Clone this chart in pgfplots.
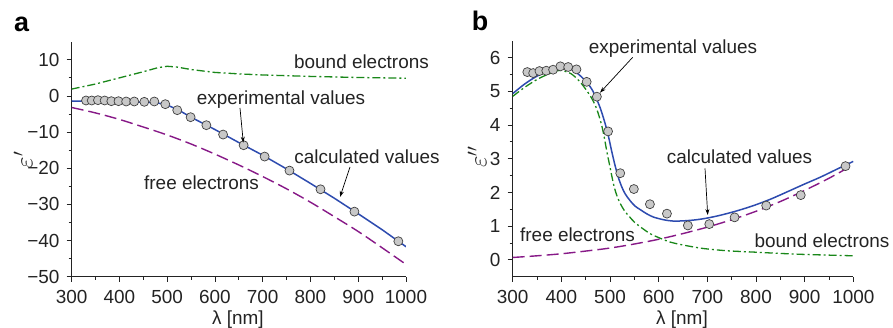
\documentclass[border=0pt]{standalone}
\usepackage{pgfplots}
\pgfplotsset{compat=1.18}
\usepackage{fontspec}
\setmainfont{Liberation Sans}
\usetikzlibrary{arrows.meta}
\definecolor{cblue}{RGB}{45,75,175}
\definecolor{cgreen}{RGB}{25,135,25}
\definecolor{cpurple}{RGB}{135,25,135}
\definecolor{ctext}{RGB}{35,35,35}
\definecolor{cmark}{RGB}{200,200,200}
\newcommand\fs{\fontsize{19}{22}\selectfont}
\pgfplotsset{
  common/.style={
    scale only axis,
    axis lines=left,
    axis line style={-, line width=0.9bp, color=ctext},
    tick align=outside,
    major tick length=5bp,
    minor tick length=3bp,
    every tick/.style={line width=0.8bp, color=ctext},
    xmin=300, xmax=1000,
    xtick={300,400,...,1000},
    xticklabels={300,400,500,600,700,800,900,1000},
    minor x tick num=1,
    minor y tick num=1,
    tick label style={font=\fs, text=ctext},
    yticklabel style={anchor=east, inner sep=0pt, xshift=-7bp},
    xticklabel style={anchor=north, inner sep=0pt, yshift=-8bp},
  },
  expmark/.style={only marks, mark=*, mark size=4.5bp, mark options={fill=cmark, draw=black!75, line width=0.7bp}},
  calc/.style={cblue, line width=1.5bp, no marks},
  free/.style={cpurple, line width=1.4bp, no marks, dash pattern=on 12bp off 5bp},
  bound/.style={cgreen, line width=1.3bp, no marks, dash pattern=on 8bp off 3bp on 2bp off 3bp},
}
\begin{document}
\begin{tikzpicture}[x=1bp,y=1bp]
\path[use as bounding box] (0bp,0bp) rectangle (893bp,328bp);
% ---------------- panel a ----------------
\begin{axis}[common,
  at={(71.7bp,51.3bp)}, anchor=south west,
  width=334.3bp, height=235bp,
  ymin=-50, ymax=15,
  ytick={-50,-40,...,10},
  yticklabels={−50,−40,−30,−20,−10,0,10},
]
\addplot[bound] coordinates {
(300,1.9)(350,3.3)(400,5.0)(450,6.7)(480,7.8)(500,8.2)(520,8.0)(550,7.3)(600,6.5)(650,6.1)(700,5.8)(800,5.4)(900,5.1)(1000,4.9)};
\addplot[free, smooth] coordinates {
(300,-3.2)(350,-4.7)(400,-6.5)(450,-8.6)(500,-10.8)(550,-13.3)(600,-16.1)(650,-19.1)(700,-22.3)(750,-25.7)(800,-29.4)(850,-33.4)(900,-37.5)(950,-42.0)(1000,-46.6)};
\addplot[calc] coordinates {
(300,-1.4)(350,-1.5)(400,-1.6)(450,-1.75)(470,-1.85)(485,-2.05)(500,-2.5)(525,-4.0)(550,-5.9)(600,-9.3)(650,-12.9)(700,-16.4)(750,-20.2)(800,-24.2)(850,-28.3)(900,-32.6)(950,-37.0)(1000,-41.7)};
\addplot[expmark] coordinates {
(330,-1.26)(342,-1.26)(355,-1.17)(369,-1.26)(383,-1.45)(398,-1.45)(414,-1.54)(431,-1.54)(452,-1.63)(473,-1.54)(496,-2.28)(521,-3.94)(549,-5.88)(582,-8.09)(617,-10.68)(660,-13.63)(704,-16.77)(756,-20.65)(821,-25.82)(892,-32.0)(984,-40.2)};
\end{axis}
% ---------------- panel b ----------------
\begin{axis}[common,
  at={(512.7bp,51.3bp)}, anchor=south west,
  width=340.6bp, height=236bp,
  ymin=-0.5, ymax=6.5,
  ytick={0,1,...,6},
  yticklabels={0,1,2,3,4,5,6},
]
\addplot[free, smooth] coordinates {
(300,0.07)(350,0.12)(400,0.18)(450,0.26)(500,0.35)(550,0.47)(600,0.61)(650,0.78)(700,0.97)(750,1.19)(800,1.44)(850,1.73)(900,2.06)(950,2.42)(1000,2.82)};
\addplot[bound, smooth] coordinates {
(300,4.85)(325,5.12)(350,5.35)(375,5.52)(397,5.62)(420,5.52)(440,5.25)(460,4.85)(472,4.50)(482,4.04)(488,3.65)(493,3.25)(500,2.75)(507,2.26)(513,1.95)(520,1.70)(530,1.45)(540,1.28)(550,1.12)(565,0.95)(582,0.78)(600,0.66)(623,0.53)(650,0.44)(690,0.34)(740,0.27)(795,0.23)(850,0.19)(900,0.16)(950,0.14)(1000,0.12)};
\addplot[calc, smooth] coordinates {
(300,4.93)(325,5.22)(350,5.45)(375,5.62)(397,5.74)(420,5.66)(442,5.42)(460,5.12)(469,4.88)(480,4.50)(490,4.04)(497,3.65)(503,3.25)(510,2.82)(517,2.45)(524,2.17)(531,1.96)(541,1.76)(551,1.60)(562,1.49)(575,1.37)(589,1.27)(610,1.19)(630,1.15)(655,1.16)(678,1.19)(700,1.24)(726,1.32)(760,1.45)(795,1.61)(830,1.80)(863,2.01)(900,2.25)(932,2.45)(965,2.68)(1000,2.92)};
\addplot[expmark] coordinates {
(330,5.57)(342,5.54)(355,5.60)(369,5.61)(383,5.64)(398,5.74)(414,5.72)(431,5.65)(452,5.28)(473,4.84)(496,3.81)(521,2.57)(549,2.10)(582,1.65)(617,1.37)(660,1.02)(704,1.06)(756,1.26)(821,1.61)(892,1.92)(984,2.78)};
\end{axis}
% ---------------- annotations ----------------
\begin{scope}[every node/.style={font=\fs, text=ctext, inner sep=0pt}]
\node[anchor=base] at (361.5bp,259.7bp) {bound electrons};
\node[anchor=base] at (281bp,223.7bp) {experimental values};
\node[anchor=base] at (367bp,164bp) {calculated values};
\node[anchor=base] at (201.5bp,138bp) {free electrons};
\node[anchor=base] at (673bp,274bp) {experimental values};
\node[anchor=base] at (739.5bp,164.7bp) {calculated values};
\node[anchor=base] at (577.5bp,86.3bp) {free electrons};
\node[anchor=base] at (822bp,80.7bp) {bound electrons};
\node[anchor=base] at (238bp,3.5bp) {λ [nm]};
\node[anchor=base] at (682bp,3.5bp) {λ [nm]};
\node[rotate=90, font=\fontsize{23}{26}\selectfont] at (23bp,168bp) {$\varepsilon'$};
\node[rotate=90, font=\fontsize{23}{26}\selectfont] at (477bp,171bp) {$\varepsilon''$};
\end{scope}
\node[font=\fontsize{27}{30}\selectfont\bfseries, text=black, inner sep=0pt] at (21.5bp,303.5bp) {a};
\node[font=\fontsize{27}{30}\selectfont\bfseries, text=black, inner sep=0pt] at (480bp,307.5bp) {b};
\begin{scope}[-{Stealth[length=6bp,width=4bp]}, line width=0.7bp, black]
\draw (240bp,220bp) -- (243.3bp,185.3bp);
\draw (350bp,161bp) -- (340bp,131bp);
\draw (632.7bp,270.7bp) -- (600bp,235.3bp);
\draw (705bp,159.7bp) -- (707.7bp,113bp);
\end{scope}
\end{tikzpicture}
\end{document}
